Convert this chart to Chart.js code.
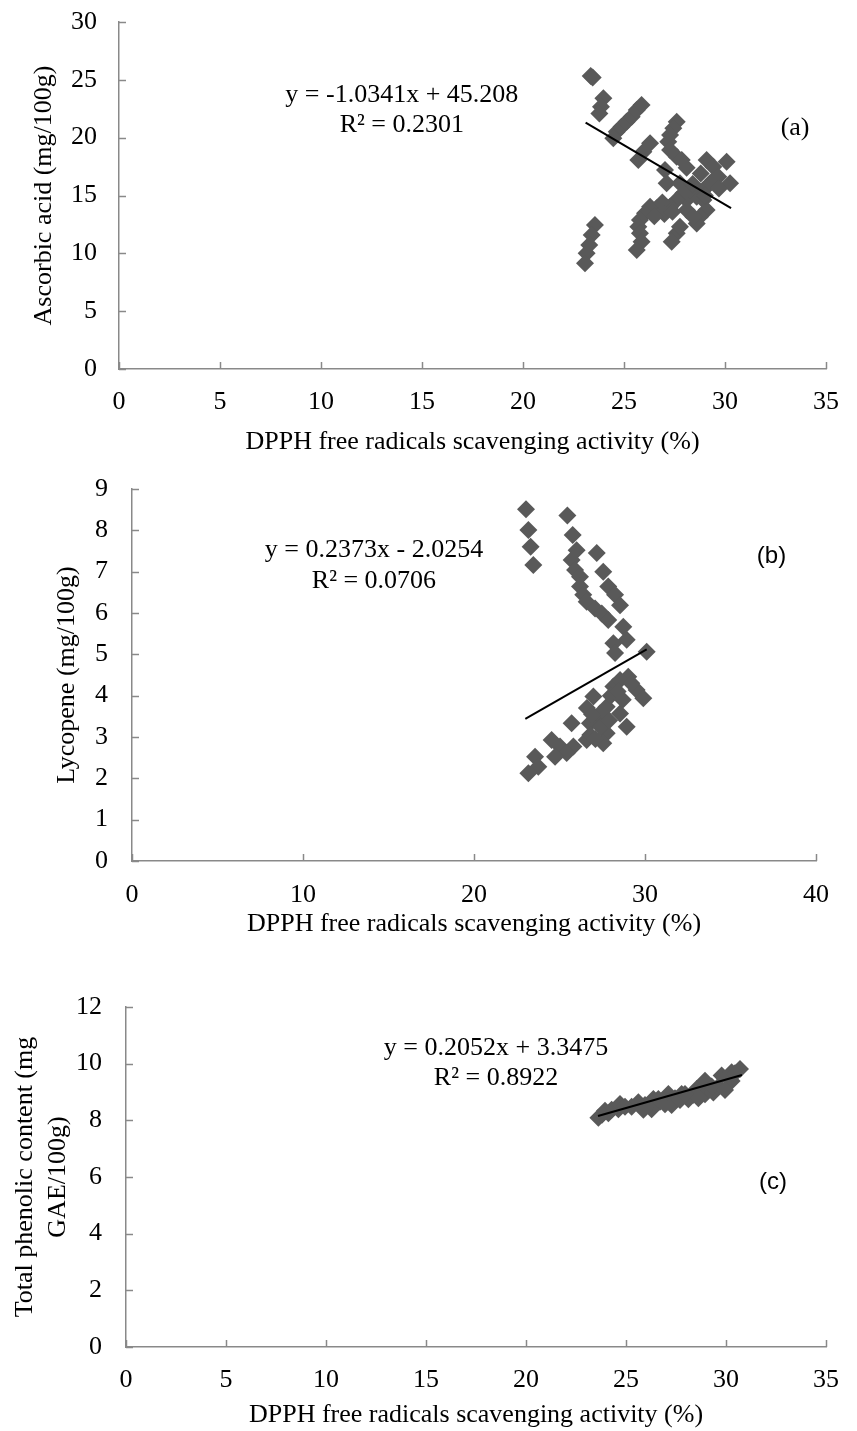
<!DOCTYPE html>
<html>
<head>
<meta charset="utf-8">
<script src="https://cdn.jsdelivr.net/npm/chart.js@4.4.0/dist/chart.umd.min.js"></script>
<style>
  body { margin: 0; background: #fff; width: 857px; height: 1431px; position: relative; overflow: hidden; }
  canvas { position: absolute; left: 0; }
</style>
</head>
<body>
<canvas id="chartA" width="857" height="460" style="top:0px"></canvas>
<canvas id="chartB" width="857" height="480" style="top:460px"></canvas>
<canvas id="chartC" width="857" height="491" style="top:940px"></canvas>
<script>
// (a) DPPH vs ascorbic acid
var dpphA = [23.35, 23.45, 23.98, 23.86, 23.78, 24.64, 24.88, 25.13, 25.38, 25.63, 25.87, 24.47,
  26.29, 25.96, 25.71, 27.61, 27.44, 27.28, 27.19, 27.28, 27.61, 27.86, 27.03, 27.11,
  29.09, 29.42, 30.08, 30.25, 29.67, 29.26, 28.93, 28.6, 28.1, 28.27, 27.77, 27.94,
  27.61, 27.28, 26.95, 26.62, 26.29, 26.04, 25.79, 25.71, 25.79, 25.87, 25.63,
  28.93, 29.09, 28.76, 28.6, 27.61, 27.36, 27.77, 28.1, 28.43,
  23.56, 23.4, 23.28, 23.15, 23.07,
  26.9, 27.0, 26.5, 27.4, 28.8, 29.4, 28.4, 29.0, 29.7, 28.1];
var ascorbic = [25.33, 25.2, 23.4, 22.68, 22.1, 20.52, 20.95, 21.38, 21.81, 22.39, 22.82, 19.94,
  19.51, 18.79, 18.07, 21.38, 20.81, 20.23, 19.65, 18.93, 18.35, 18.07, 17.2, 16.05,
  18.07, 17.49, 17.92, 16.05, 16.63, 16.05, 15.48, 14.9, 14.61, 15.48, 16.05, 15.19,
  14.61, 14.03, 13.75, 13.89, 14.03, 13.46, 12.88, 12.3, 11.73, 11.01, 10.29,
  14.61, 13.75, 13.17, 12.59, 11.73, 11.01, 12.3, 13.75, 13.17,
  12.45, 11.59, 10.72, 10.0, 9.14,
  14.4, 13.4, 13.2, 13.6, 16.9, 16.3, 16.0, 15.0, 15.6, 17.4];
var trendAx = [23.1, 30.3];
var trendAy = [21.3, 13.9];

// (b) DPPH vs lycopene
var dpphB = [23.04, 23.18, 23.31, 23.47,
  25.46, 25.77, 26.0, 25.71, 25.91, 26.2, 26.2, 26.39, 26.59,
  27.18, 27.56, 27.85, 28.25, 28.54, 27.08, 27.47, 27.85,
  28.73, 28.93, 28.15, 28.25, 30.1,
  29.02, 29.51, 29.9, 28.15, 26.98, 27.76, 27.18, 28.54, 28.93, 27.76, 27.56, 26.78,
  25.71, 25.81, 24.54, 25.03, 25.42, 24.74, 23.57, 23.76, 23.18, 26.59, 27.37, 28.54,
  26.6, 26.9, 27.4, 27.9, 28.0, 28.4, 28.7, 29.2, 26.8, 27.1];
var lycopene = [8.51, 8.01, 7.6, 7.16,
  8.36, 7.89, 7.52, 7.28, 7.04, 6.88, 6.64, 6.44, 6.27,
  7.45, 7.0, 6.64, 6.44, 6.19, 6.11, 5.99, 5.83,
  5.67, 5.35, 5.27, 5.03, 5.06,
  4.46, 4.14, 3.94, 4.22, 3.98, 3.73, 3.41, 3.57, 3.25, 3.09, 2.85, 3.33,
  3.33, 2.77, 2.93, 2.77, 2.61, 2.52, 2.52, 2.28, 2.12, 2.93, 3.57, 4.38,
  3.7, 3.55, 3.25, 3.4, 4.0, 4.1, 3.9, 4.3, 3.05, 2.95];
var trendBx = [23.0, 30.1];
var trendBy = [3.44, 5.12];

// (c) DPPH vs total phenolic content
var dpphC = [23.62, 23.95, 24.28, 24.62, 24.7, 25.28, 25.62, 25.95, 26.28, 26.37, 26.7, 26.95,
  27.12, 27.45, 27.78, 28.12, 28.37, 28.53, 28.95, 28.95, 29.37, 29.62, 29.78, 30.28, 30.28, 30.7,
  24.12, 24.95, 25.87, 27.28, 27.7, 28.62, 29.28, 29.95, 30.45, 27.95, 26.62, 23.8];
var phenolic = [8.09, 8.34, 8.37, 8.39, 8.58, 8.48, 8.64, 8.54, 8.39, 8.75, 8.66, 8.57,
  8.93, 8.78, 8.93, 8.74, 8.9, 9.11, 8.92, 9.4, 8.98, 9.19, 9.58, 9.39, 9.7, 9.81,
  8.25, 8.48, 8.37, 8.54, 8.72, 8.78, 9.19, 9.07, 9.66, 8.93, 8.75, 8.2];
var trendCx = [23.6, 30.8];
var trendCy = [8.15, 9.6];

var markerColor = '#595959';
var axisColor = '#898989';
var serif = 'Liberation Serif';

function pairs(xs, ys) {
  return xs.map(function (v, i) { return {x: v, y: ys[i]}; });
}

// tick marks sit inside the plot, like the original
var innerTicks = {
  id: 'innerTicks',
  beforeDatasetsDraw: function (chart) {
    var ctx = chart.ctx, x = chart.scales.x, y = chart.scales.y;
    ctx.save();
    ctx.strokeStyle = axisColor;
    ctx.lineWidth = 1.5;
    x.ticks.forEach(function (t) {
      var p = Math.round(x.getPixelForValue(t.value)) + 0.5;
      ctx.beginPath(); ctx.moveTo(p, y.bottom); ctx.lineTo(p, y.bottom - 7); ctx.stroke();
    });
    y.ticks.forEach(function (t) {
      var p = Math.round(y.getPixelForValue(t.value)) + 0.5;
      ctx.beginPath(); ctx.moveTo(x.left, p); ctx.lineTo(x.left + 7, p); ctx.stroke();
    });
    ctx.restore();
  }
};

// equation, R² and panel letter
var notes = {
  id: 'notes',
  afterDraw: function (chart, args, opts) {
    var ctx = chart.ctx, x = chart.scales.x, y = chart.scales.y;
    ctx.save();
    ctx.fillStyle = '#000';
    ctx.textAlign = 'center';
    ctx.textBaseline = 'middle';
    (opts.items || []).forEach(function (it) {
      ctx.font = it.font;
      ctx.fillText(it.text, x.getPixelForValue(it.x), y.getPixelForValue(it.y));
    });
    ctx.restore();
  }
};

function makeChart(id, cfg) {
  return new Chart(document.getElementById(id), {
    type: 'scatter',
    data: {
      datasets: [{
        type: 'line',
        data: pairs(cfg.tx, cfg.ty),
        borderColor: '#000',
        borderWidth: 2,
        pointRadius: 0,
        fill: false,
        order: 0
      }, {
        data: pairs(cfg.xs, cfg.ys),
        pointStyle: 'rectRot',
        pointRadius: 9,
        backgroundColor: markerColor,
        borderColor: markerColor,
        borderWidth: 0,
        order: 1
      }]
    },
    options: {
      responsive: false,
      animation: false,
      events: [],
      layout: { autoPadding: false, padding: { top: cfg.top, right: cfg.right, left: 0, bottom: 0 } },
      plugins: { legend: { display: false }, tooltip: { enabled: false }, notes: { items: cfg.notes } },
      scales: {
        x: {
          type: 'linear', min: 0, max: cfg.xMax,
          ticks: { stepSize: cfg.xStep, padding: cfg.xPad, color: '#000', font: { family: serif, size: 26 }, maxRotation: 0 },
          grid: { display: false, drawTicks: false },
          border: { color: axisColor, width: 1.5 },
          title: { display: true, text: 'DPPH free radicals scavenging activity (%)', color: '#000',
            font: { family: serif, size: 26, lineHeight: 1.2 }, padding: { top: 0, bottom: cfg.xTitlePad } },
          afterFit: function (s) { s.height = cfg.xH; s.paddingLeft = 0; s.paddingRight = 0; }
        },
        y: {
          type: 'linear', min: 0, max: cfg.yMax,
          ticks: { stepSize: cfg.yStep, padding: cfg.yPad, color: '#000', font: { family: serif, size: 26 } },
          grid: { display: false, drawTicks: false },
          border: { color: axisColor, width: 1.5 },
          title: { display: true, text: cfg.yTitle, color: '#000',
            font: { family: serif, size: 26, lineHeight: cfg.yTitleLh || 1.2 }, padding: { top: cfg.yTitlePad, bottom: 0 } },
          afterFit: function (s) { s.width = cfg.yW; s.paddingTop = 0; s.paddingBottom = 0; }
        }
      }
    },
    plugins: [innerTicks, notes]
  });
}

makeChart('chartA', {
  xs: dpphA, ys: ascorbic, tx: trendAx, ty: trendAy,
  top: 22, right: 31, xMax: 35, xStep: 5, yMax: 30, yStep: 5,
  xH: 91, xPad: 18, xTitlePad: 2, yW: 119, yPad: 22, yTitlePad: 29,
  yTitle: 'Ascorbic acid (mg/100g)',
  notes: [
    { text: 'y = -1.0341x + 45.208', x: 14.0, y: 23.7, font: '26px "Liberation Serif"' },
    { text: 'R\u00b2 = 0.2301', x: 14.0, y: 21.1, font: '26px "Liberation Serif"' },
    { text: '(a)', x: 33.47, y: 20.8, font: '26px "Liberation Serif"' }
  ]
});

makeChart('chartB', {
  xs: dpphB, ys: lycopene, tx: trendBx, ty: trendBy,
  top: 29, right: 41, xMax: 40, xStep: 10, yMax: 9, yStep: 1,
  xH: 79, xPad: 19, xTitlePad: 0, yW: 132, yPad: 24, yTitlePad: 52,
  yTitle: 'Lycopene (mg/100g)',
  notes: [
    { text: 'y = 0.2373x - 2.0254', x: 14.15, y: 7.52, font: '26px "Liberation Serif"' },
    { text: 'R\u00b2 = 0.0706', x: 14.15, y: 6.77, font: '26px "Liberation Serif"' },
    { text: '(b)', x: 37.4, y: 7.36, font: '24px "Liberation Sans"' }
  ]
});

makeChart('chartC', {
  xs: dpphC, ys: phenolic, tx: trendCx, ty: trendCy,
  top: 67, right: 31, xMax: 35, xStep: 5, yMax: 12, yStep: 2,
  xH: 84, xPad: 18, xTitlePad: 0, yW: 126, yPad: 24, yTitlePad: 9, yTitleLh: 1.25,
  yTitle: ['Total phenolic content (mg', 'GAE/100g)'],
  notes: [
    { text: 'y = 0.2052x + 3.3475', x: 18.5, y: 10.55, font: '26px "Liberation Serif"' },
    { text: 'R\u00b2 = 0.8922', x: 18.5, y: 9.5, font: '26px "Liberation Serif"' },
    { text: '(c)', x: 32.35, y: 5.82, font: '24px "Liberation Sans"' }
  ]
});
</script>
</body>
</html>
